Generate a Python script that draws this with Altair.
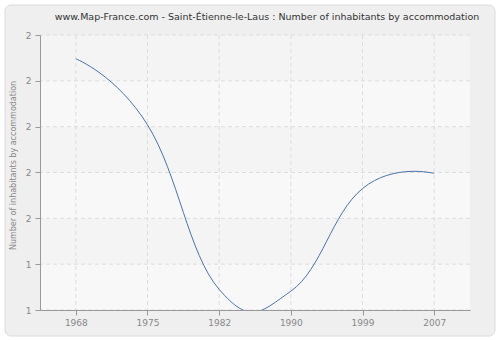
import altair as alt
import pandas as pd

# Data
years = ["1968", "1975", "1982", "1990", "1999", "2007"]
values = [1.848, 1.704, 1.345, 1.341, 1.565, 1.598]

y_ticks = [1.3, 1.4, 1.5, 1.6, 1.7, 1.8, 1.9]
band_lo = [1.3, 1.4, 1.5, 1.6, 1.7, 1.8]
band_hi = [1.4, 1.5, 1.6, 1.7, 1.8, 1.9]
band_kind = ["light", "hatch", "light", "hatch", "light", "hatch"]

title_text = "www.Map-France.com - Saint-Étienne-le-Laus : Number of inhabitants by accommodation"
y_title = "Number of inhabitants by accommodation"

FONT = "DejaVu Sans"

line_df = pd.DataFrame({"year": years, "value": values})
band_df = pd.DataFrame({"value": band_lo, "hi": band_hi, "kind": band_kind})
ygrid_df = pd.DataFrame({"value": y_ticks})
xgrid_df = pd.DataFrame({"year": years})
panel_df = pd.DataFrame({"a": [0]})

x_scale = alt.Scale(type="point", padding=0.5, domain=years)
y_scale = alt.Scale(domain=[1.3, 1.9], nice=False, zero=False)

x_axis = alt.Axis(title=None, labelAngle=0, labelColor="#888888", labelFont=FONT,
                  labelFontSize=9, tickColor="#999999", tickSize=5, labelPadding=3,
                  domainColor="#999999", grid=False, zindex=1)
y_axis = alt.Axis(values=y_ticks, format=".0f", title=y_title, titleColor="#888888",
                  titleFont=FONT, titleFontSize=8, titleFontWeight="normal",
                  titlePadding=8, titleY=130, labelColor="#888888", labelFont=FONT,
                  labelFontSize=9, tickColor="#999999", tickSize=5, labelPadding=4,
                  domainColor="#999999", grid=False, zindex=1)

X = alt.X("year:O", scale=x_scale, sort=years, axis=x_axis)
Y = alt.Y("value:Q", scale=y_scale, axis=y_axis)

panel = alt.Chart(panel_df).mark_rect(
    fill="#efefef", stroke="#dcdcdc", strokeWidth=1, cornerRadius=6
).encode(
    x=alt.value(-35), x2=alt.value(455), y=alt.value(-30), y2=alt.value(301)
)

title = alt.Chart(panel_df).mark_text(
    text=title_text, font=FONT, fontSize=9.5, color="#333333",
    align="center", baseline="middle"
).encode(x=alt.value(227), y=alt.value(-18))

plot_bg = alt.Chart(panel_df).mark_rect(fill="#ffffff").encode(
    x=alt.value(0), x2=alt.value(430), y=alt.value(0), y2=alt.value(275)
)

bands = alt.Chart(band_df).mark_rect().encode(
    y=Y,
    y2="hi:Q",
    color=alt.Color("kind:N", scale=alt.Scale(domain=["light", "hatch"],
                                              range=["#f8f8f8", "#f4f4f4"]), legend=None),
)

ygrid = alt.Chart(ygrid_df).mark_rule(color="#dddddd", strokeDash=[4, 3], strokeWidth=1).encode(
    y=Y
)

xgrid = alt.Chart(xgrid_df).mark_rule(color="#dddddd", strokeDash=[4, 3], strokeWidth=1).encode(
    x=X
)

line = alt.Chart(line_df).mark_line(
    interpolate="cardinal", tension=-0.3, clip=True, color="#4a72a8", strokeWidth=1
).encode(x=X, y=Y)

chart = alt.layer(panel, title, plot_bg, bands, ygrid, xgrid, line).properties(
    width=430,
    height=275,
    autosize=alt.AutoSizeParams(type="none"),
    padding={"left": 40, "top": 35, "right": 30, "bottom": 30},
    background="#ffffff",
).configure_view(stroke="#dddddd", strokeWidth=1)

chart.save("out.html", embed_options={"renderer": "svg", "actions": False})
